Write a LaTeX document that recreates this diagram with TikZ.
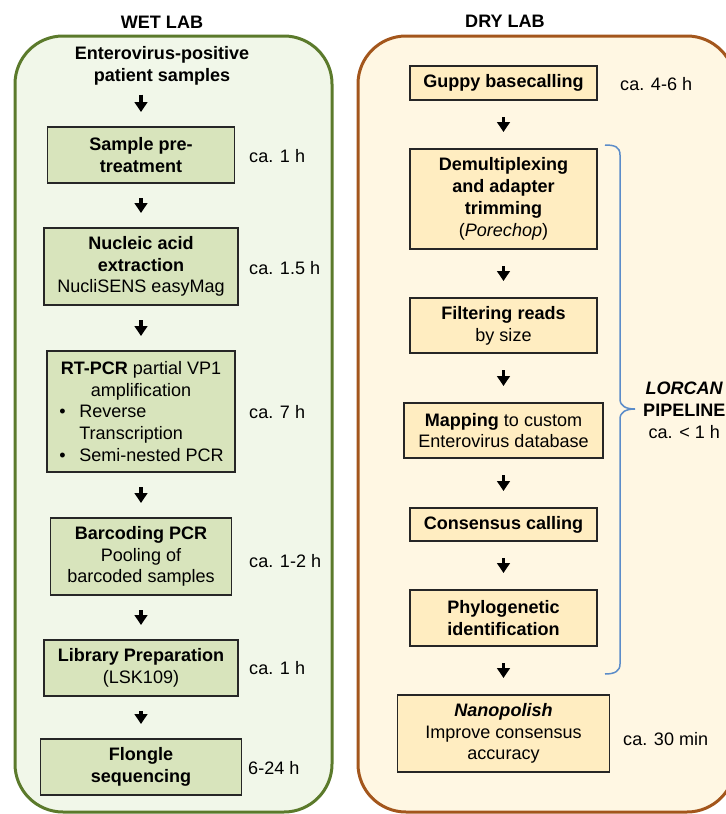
\documentclass[tikz,border=0pt]{standalone}
\usepackage{fontspec}
\setmainfont{Liberation Sans}
\usetikzlibrary{arrows.meta,calc}

\definecolor{wetfill}{HTML}{F1F7E9}
\definecolor{wetedge}{HTML}{5B7A2B}
\definecolor{wetbox}{HTML}{D8E4BC}
\definecolor{dryfill}{HTML}{FFF7E3}
\definecolor{dryedge}{HTML}{A3561C}
\definecolor{drybox}{HTML}{FFEDC1}
\definecolor{bracecol}{HTML}{5B8CC9}

\newcommand{\labfont}{\fontsize{15.4}{18.6}\selectfont}

\begin{document}
\begin{tikzpicture}[x=0.3mm,y=-0.3mm,
    panel/.style={line width=0.9mm,rounded corners=14.4mm},
    title/.style={font=\labfont\bfseries,inner sep=0,align=center},
    box/.style={draw=black!85,line width=0.4mm,align=center,inner sep=1mm,font=\labfont},
    wetstep/.style 2 args={box,fill=wetbox,minimum width=#1*0.3mm,minimum height=#2*0.3mm},
    drystep/.style 2 args={box,fill=drybox,minimum width=#1*0.3mm,minimum height=#2*0.3mm},
    dur/.style={font=\labfont,anchor=west,inner sep=0},
    flow/.style={line width=0.95mm,-{Triangle[width=3.8mm,length=3mm]},shorten <=#1,shorten >=#1},
    flow/.default=4.3mm]
    \clip (0,0) rectangle (726,814);

    % panels
    \draw[panel,draw=wetedge,fill=wetfill] (15,36) rectangle (332,812);
    \draw[panel,draw=dryedge,fill=dryfill] (358,36) rectangle (735,812);
    \node[title] (wettitle) at (162,22) {WET LAB};
    \node[title] (drytitle) at (505,21) {DRY LAB};

    % wet lab
    \node[title] (src) at (162,66) {Enterovirus-positive\\patient samples};
    \node[wetstep={187}{56}] (pretreat) at (141,155) {\textbf{Sample pre-}\\\textbf{treatment}};
    \node[wetstep={194}{77}] (extract) at (141,266.5) {\textbf{Nucleic acid}\\\textbf{extraction}\\NucliSENS easyMag};
    \node[wetstep={188}{121}] (rtpcr) at (141,411.5) {\textbf{RT-PCR} partial VP1\\amplification\\
        \makebox[49mm][l]{\makebox[6mm][l]{\textbullet}Reverse}\\
        \makebox[49mm][l]{\hspace{6mm}Transcription}\\
        \makebox[49mm][l]{\makebox[6mm][l]{\textbullet}Semi-nested PCR}};
    \node[wetstep={181}{77}] (barcode) at (141,556.5) {\textbf{Barcoding PCR}\\Pooling of\\barcoded samples};
    \node[wetstep={194}{56}] (library) at (141,668) {\textbf{Library Preparation}\\(LSK109)};
    \node[wetstep={201}{56}] (flongle) at (141,767) {\textbf{Flongle}\\\textbf{sequencing}};

    \node[dur] (tpre) at (249,156) {ca. 1 h};
    \node[dur] (text) at (249,268) {ca. 1.5 h};
    \node[dur] (trt) at (249,412) {ca. 7 h};
    \node[dur] (tbar) at (249,561) {ca. 1-2 h};
    \node[dur] (tlib) at (249,668) {ca. 1 h};
    \node[dur] (tseq) at (248,768) {6-24 h};

    \draw[flow,shorten <=2.7mm] (src.south -| pretreat.north) -- (pretreat.north);
    \foreach \a/\b in {pretreat/extract,extract/rtpcr,rtpcr/barcode,barcode/library,library/flongle}
        \draw[flow] (\a.south) -- (\b.north);

    % dry lab
    \node[drystep={187}{34}] (guppy) at (503.5,83) {\textbf{Guppy basecalling}};
    \node[drystep={187}{100}] (demux) at (503.5,199) {\textbf{Demultiplexing}\\\textbf{and adapter}\\\textbf{trimming}\\(\textit{Porechop})};
    \node[drystep={187}{55}] (filter) at (503.5,325.5) {\textbf{Filtering reads}\\by size};
    \node[drystep={199}{55}] (mapping) at (503.5,430.5) {\textbf{Mapping} to custom\\Enterovirus database};
    \node[drystep={187}{33}] (consensus) at (503.5,524.5) {\textbf{Consensus calling}};
    \node[drystep={187}{56}] (phylo) at (503.5,618) {\textbf{Phylogenetic}\\\textbf{identification}};
    \node[drystep={212}{77}] (nanopolish) at (503.5,733.5) {\textbf{\textit{Nanopolish}}\\Improve consensus\\accuracy};

    \node[dur] (tguppy) at (620,84) {ca. 4-6 h};
    \node[dur] (tnano) at (623,739) {ca. 30 min};

    \foreach \a/\b in {guppy/demux,demux/filter,filter/mapping,mapping/consensus,consensus/phylo,phylo/nanopolish}
        \draw[flow=4.9mm] (\a.south) -- (\b.north);

    % pipeline brace
    \coordinate (tip) at (635,409);
    \draw[bracecol,line width=0.45mm] (605,145) .. controls (615,145) and (620,147) .. (620,155)
        -- (620,399) .. controls (620,406) and (626,409) .. (tip)
        .. controls (626,409) and (620,412) .. (620,419)
        -- (620,664) .. controls (620,671) and (615,674) .. (605,674);
    \node[font=\labfont,anchor=west,inner sep=0,align=center] (lorcan) at ($(tip)+(8,1)$)
        {\textbf{\textit{LORCAN}}\\\textbf{PIPELINE}\\ca. < 1 h};
\end{tikzpicture}
\end{document}
